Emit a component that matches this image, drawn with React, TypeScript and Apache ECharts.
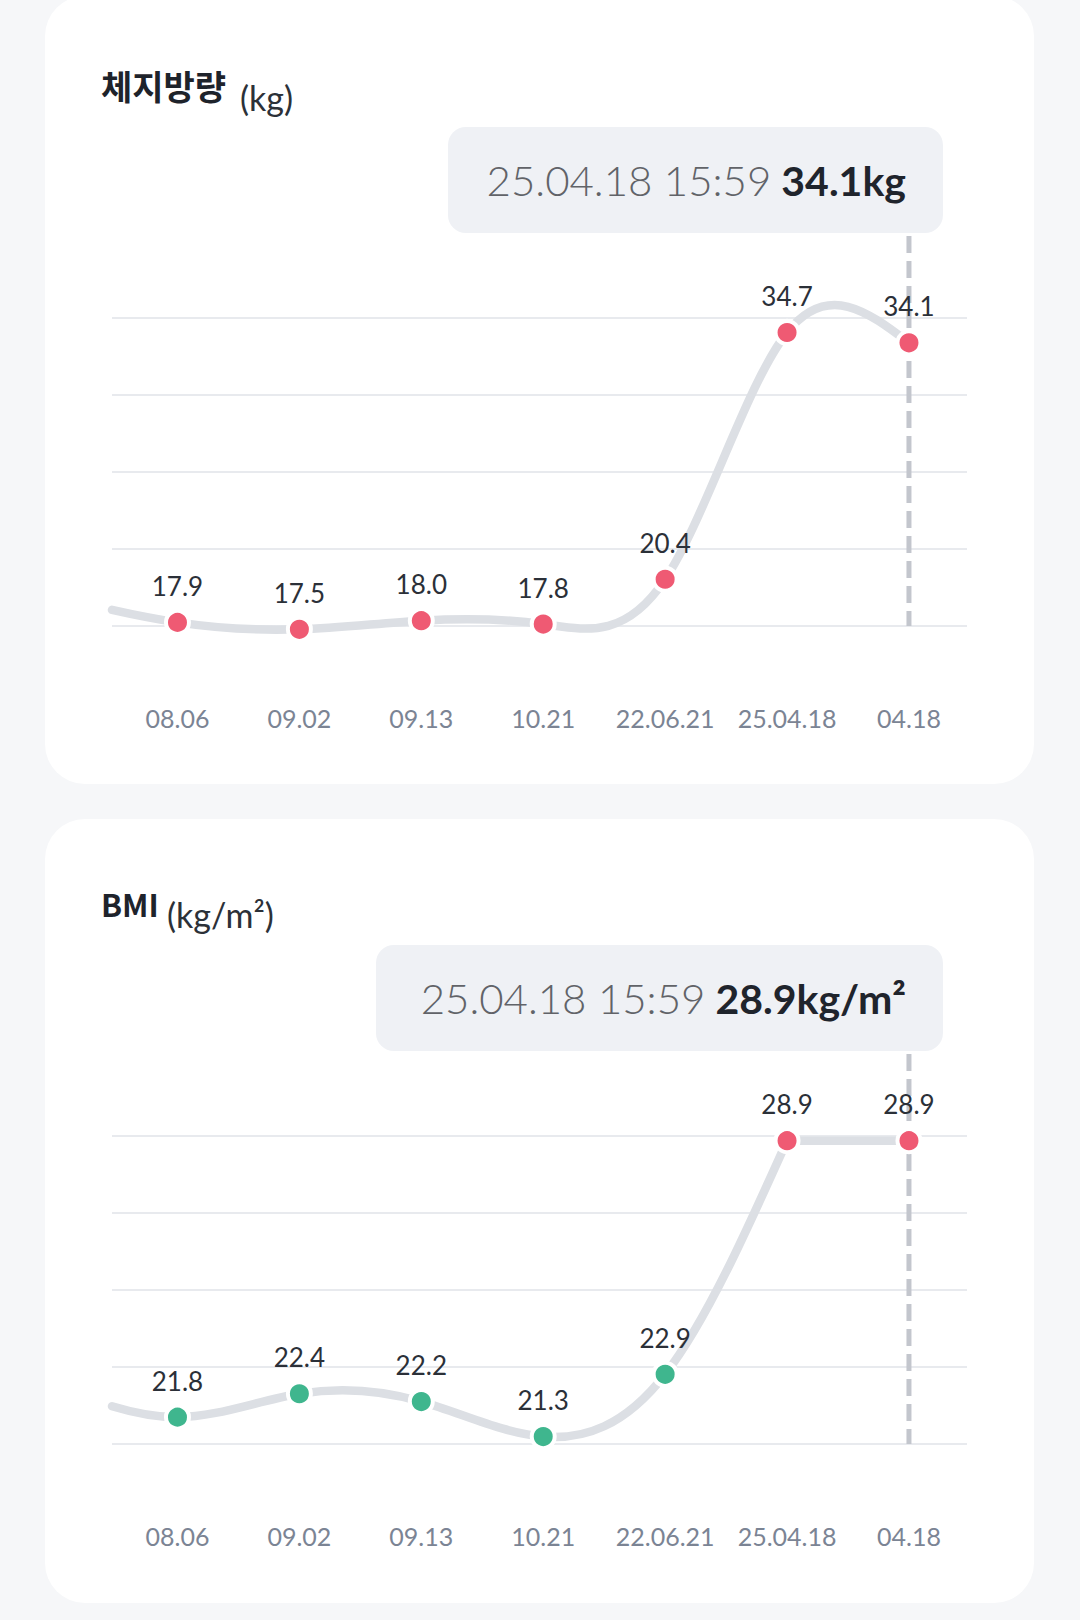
import React, { useEffect, useRef } from 'react';
import * as echarts from 'echarts';

// ---------- data ----------
const categories = ['08.06', '09.02', '09.13', '10.21', '22.06.21', '25.04.18', '04.18'];

const weightTitle = '체지방량';
const weightUnit = 'kg';
const weightValues = [17.9, 17.5, 18.0, 17.8, 20.4, 34.7, 34.1];
const weightPrev = 19.4; // earlier measurement just off the left edge
const weightStatus = ['high', 'high', 'high', 'high', 'high', 'high', 'high'];
const weightAxisRange = [17.69, 35.54];

const bmiTitle = 'BMI';
const bmiUnit = 'kg/m²';
const bmiValues = [21.8, 22.4, 22.2, 21.3, 22.9, 28.9, 28.9];
const bmiPrev = 22.6; // earlier measurement just off the left edge
const bmiStatus = ['normal', 'normal', 'normal', 'normal', 'normal', 'high', 'high'];
const bmiAxisRange = [21.11, 29.02];

const latestTime = '25.04.18 15:59';

// ---------- styling ----------
const X_MIN = 0.463;
const X_MAX = 7.476;
const statusColor: Record<string, string> = { high: '#EF5A73', normal: '#3FB68E' };
const NUM_FONT = 'Lato, "Noto Sans", sans-serif';
const KR_FONT = '"Noto Sans CJK KR", "Noto Sans", sans-serif';

function splineM(ys: number[]): number[] {
  const n = ys.length;
  const M = new Array(n).fill(0);
  if (n < 3) return M;
  const m = n - 2;
  const cp = new Array(m).fill(0);
  const dp = new Array(m).fill(0);
  for (let k = 0; k < m; k++) {
    const i = k + 1;
    const d = 6 * (ys[i + 1] - 2 * ys[i] + ys[i - 1]);
    const prevC = k === 0 ? 0 : cp[k - 1];
    const prevD = k === 0 ? 0 : dp[k - 1];
    const denom = 4 - prevC;
    cp[k] = 1 / denom;
    dp[k] = (d - prevD) / denom;
  }
  for (let k = m - 1; k >= 0; k--) {
    M[k + 1] = dp[k] - cp[k] * M[k + 2];
  }
  return M;
}

type Pt = [number, number];
function buildSegments(xs: number[], ys: number[]) {
  const segs: Pt[][] = [];
  const n = ys.length;
  const flush = (s: number, e: number) => {
    if (e <= s) return;
    const seg = ys.slice(s, e + 1);
    const M = splineM(seg);
    for (let j = 0; j < seg.length - 1; j++) {
      const x0 = xs[s + j], x1 = xs[s + j + 1];
      const h = x1 - x0;
      const y0 = seg[j], y1 = seg[j + 1];
      const slope = (y1 - y0) / h;
      const s0 = slope - (h * (2 * M[j] + M[j + 1])) / 6;
      const s1 = slope + (h * (M[j] + 2 * M[j + 1])) / 6;
      segs.push([[x0, y0], [x0 + h / 3, y0 + (s0 * h) / 3], [x1 - h / 3, y1 - (s1 * h) / 3], [x1, y1]]);
    }
  };
  let runStart = 0;
  for (let i = 0; i < n - 1; i++) {
    if (ys[i] === ys[i + 1]) {
      flush(runStart, i);
      segs.push([[xs[i], ys[i]], [xs[i], ys[i]], [xs[i + 1], ys[i + 1]], [xs[i + 1], ys[i + 1]]]);
      runStart = i + 1;
    }
  }
  flush(runStart, n - 1);
  return segs;
}

function splitRight(p: Pt[], t: number): Pt[] {
  const lerp = (a: Pt, b: Pt): Pt => [a[0] + (b[0] - a[0]) * t, a[1] + (b[1] - a[1]) * t];
  const a = lerp(p[0], p[1]), b = lerp(p[1], p[2]), c = lerp(p[2], p[3]);
  const d = lerp(a, b), e = lerp(b, c);
  const f = lerp(d, e);
  return [f, e, c, p[3]];
}

function makeLineSeries(gi: number, prev: number, values: number[]) {
  const xs = [0, ...values.map((_, i) => i + 1)];
  const ys = [prev, ...values];
  return {
    type: 'custom',
    xAxisIndex: gi,
    yAxisIndex: gi * 2,
    silent: true,
    z: 2,
    data: [[1, values[0]]],
    encode: { x: 0, y: 1 },
    renderItem: (_params: any, api: any) => {
      const segs = buildSegments(xs, ys);
      if (segs.length && segs[0][0][0] < X_MIN) {
        const s = segs[0];
        const t = (X_MIN - s[0][0]) / (s[3][0] - s[0][0]);
        segs[0] = splitRight(s, t);
      }
      const P = (p: Pt) => api.coord(p);
      let d = '';
      segs.forEach((s, i) => {
        const a = P(s[0]), b = P(s[1]), c = P(s[2]), e = P(s[3]);
        if (i === 0) d += `M${a[0]} ${a[1]}`;
        d += ` C${b[0]} ${b[1]} ${c[0]} ${c[1]} ${e[0]} ${e[1]}`;
      });
      return {
        type: 'path',
        shape: { pathData: d },
        style: { fill: 'none', stroke: '#DCDFE4', lineWidth: 8.5, lineCap: 'round', lineJoin: 'round' },
      };
    },
  };
}

function makeDotSeries(gi: number, values: number[], status: string[]) {
  return {
    type: 'scatter',
    xAxisIndex: gi,
    yAxisIndex: gi * 2,
    z: 4,
    clip: false,
    symbol: 'circle',
    symbolSize: 23,
    itemStyle: { borderColor: '#FFFFFF', borderWidth: 4, opacity: 1 },
    label: {
      show: true,
      position: 'top',
      distance: 10,
      fontSize: 26,
      fontFamily: NUM_FONT,
      color: '#2B3038',
      formatter: (p: any) => Number(p.value[1]).toFixed(1),
    },
    data: values.map((v, i) => ({ value: [i + 1, v], itemStyle: { color: statusColor[status[i]] } })),
  };
}

function makeXAxis(gi: number) {
  return {
    type: 'value',
    gridIndex: gi,
    z: 1,
    min: X_MIN,
    max: X_MAX,
    axisLine: { show: false },
    axisTick: { show: false },
    splitLine: { show: false },
    axisLabel: {
      customValues: categories.map((_, i) => i + 1),
      formatter: (v: number) => categories[Math.round(v) - 1] ?? '',
      margin: 79,
      fontSize: 25,
      fontFamily: NUM_FONT,
      color: '#7B8494',
    },
  };
}

function makeYAxes(gi: number, range: number[]) {
  return [
    { type: 'value', gridIndex: gi, min: range[0], max: range[1], show: false },
    {
      type: 'value',
      gridIndex: gi,
      z: 1,
      min: 0,
      max: 4,
      interval: 1,
      axisLabel: { show: false },
      axisLine: { show: false },
      axisTick: { show: false },
      splitLine: { show: true, lineStyle: { color: '#E8EAEE', width: 2 } },
    },
  ];
}

export default function App() {
  const ref = useRef<HTMLDivElement>(null);
  useEffect(() => {
    document.body.style.margin = '0';
    document.body.style.background = '#F6F7F9';
    const el = ref.current!;
    const chart = echarts.init(el, null, { renderer: 'svg' });
    chart.setOption({
      animation: false,
      backgroundColor: '#F6F7F9',
      grid: [
        { left: 112, right: 113, top: 318, height: 308 },
        { left: 112, right: 113, top: 1136, height: 308 },
      ],
      xAxis: [makeXAxis(0), makeXAxis(1)],
      yAxis: [...makeYAxes(0, weightAxisRange), ...makeYAxes(1, bmiAxisRange)],
      series: [
        makeLineSeries(0, weightPrev, weightValues),
        makeDotSeries(0, weightValues, weightStatus),
        makeLineSeries(1, bmiPrev, bmiValues),
        makeDotSeries(1, bmiValues, bmiStatus),
      ],
    });

    const panels = [
      { gi: 0, title: weightTitle, titleSize: 34, unit: weightUnit, values: weightValues, cardY: -4, cardH: 788, titleY: 85, unitY: 97, unitX: 240, boxW: 495 },
      { gi: 1, title: bmiTitle, titleSize: 31, unit: bmiUnit, values: bmiValues, cardY: 819, cardH: 784, titleY: 903, unitY: 914, unitX: 167, boxW: 567 },
    ];
    const graphics: any[] = [];
    panels.forEach((p) => {
      const last = p.values.length;
      const lastX = chart.convertToPixel({ xAxisIndex: p.gi }, last) as number;
      const gridTop = chart.convertToPixel({ yAxisIndex: p.gi * 2 + 1 }, 4) as number;
      const gridBottom = chart.convertToPixel({ yAxisIndex: p.gi * 2 + 1 }, 0) as number;
      const boxRight = lastX + 34;
      const boxTop = gridTop - 191;
      const boxH = 106;
      graphics.push(
        { type: 'rect', z: -10, shape: { x: 45, y: p.cardY, width: 989, height: p.cardH, r: 40 }, style: { fill: '#FFFFFF' } },
        {
          type: 'text', z: 2, x: 101, y: p.titleY,
          style: { text: p.title, fontSize: p.titleSize, fontWeight: 'bold', fontFamily: KR_FONT, fill: '#1E232B', verticalAlign: 'middle' },
        },
        {
          type: 'text', z: 2, x: p.unitX, y: p.unitY,
          style: { text: `(${p.unit})`, fontSize: 34, fontFamily: NUM_FONT, fill: '#2C3138', verticalAlign: 'middle' },
        },
        {
          type: 'rect', z: 2,
          shape: { x: boxRight - p.boxW, y: boxTop, width: p.boxW, height: boxH, r: 18 },
          style: { fill: '#EFF1F5' },
        },
        {
          type: 'text', z: 3, x: boxRight - 37, y: boxTop + boxH / 2,
          style: {
            text: `{d|${latestTime}}   {v|${p.values[last - 1].toFixed(1)}${p.unit}}`,
            align: 'right',
            verticalAlign: 'middle',
            rich: {
              d: { fontSize: 42, fontFamily: NUM_FONT, fill: '#616368', fontWeight: 300 },
              v: { fontSize: 41, fontFamily: NUM_FONT, fill: '#1F242C', fontWeight: 'bold' },
            },
          },
        },
        {
          type: 'line', z: 2,
          shape: { x1: lastX, y1: boxTop + boxH + 3, x2: lastX, y2: gridBottom },
          style: { stroke: '#C3C6CD', lineWidth: 5, lineDash: [17, 8] },
        },
      );
    });
    chart.setOption({ graphic: graphics });
    return () => chart.dispose();
  }, []);
  return <div ref={ref} style={{ width: 1080, height: 1620, background: '#F6F7F9' }} />;
}
